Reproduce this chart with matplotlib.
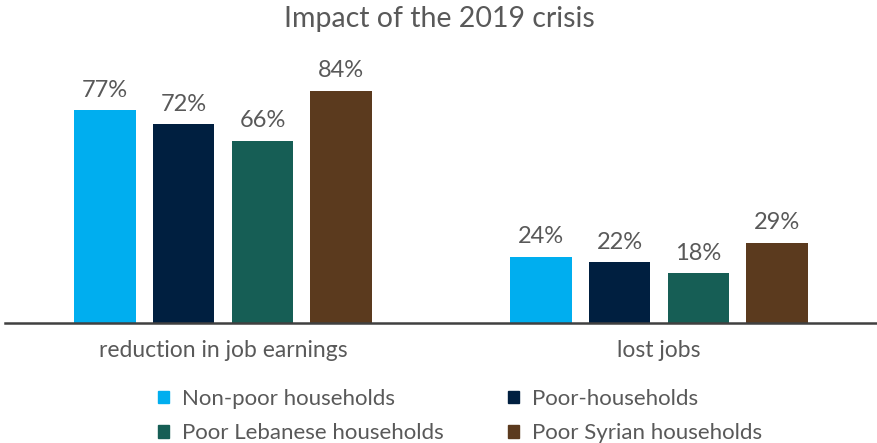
import numpy as np
import matplotlib.pyplot as plt
from matplotlib.patches import Patch

plt.rcParams['font.family'] = ['Lato', 'DejaVu Sans']

# data
categories = ['reduction in job earnings', 'lost jobs']
series = ['Non-poor households', 'Poor-households', 'Poor Lebanese households', 'Poor Syrian households']
values = [
    [77, 24],
    [72, 22],
    [66, 18],
    [84, 29],
]
colors = ['#00AEEF', '#001F40', '#165E55', '#5B3A1E']
txt = '#595959'

fig = plt.figure(figsize=(8.78, 4.43), dpi=100)
ax = fig.add_axes([5 / 878, (443 - 323) / 443, 872 / 878, 276 / 443])

x = np.arange(len(categories))
step = 0.181
width = 0.142
for i, (name, vals) in enumerate(zip(series, values)):
    pos = x + (i - 1.5) * step
    bars = ax.bar(pos, vals, width, color=colors[i], label=name)
    for b, v in zip(bars, vals):
        ax.text(b.get_x() + b.get_width() / 2, v + 3.5, f'{v}%', ha='center', va='bottom',
                fontsize=17, color=txt)

ax.set_xlim(-0.5, 1.5)
ax.set_ylim(0, 100)
ax.set_yticks([])
ax.set_xticks(x)
ax.set_xticklabels(categories, fontsize=16.5, color=txt)
ax.tick_params(axis='x', length=0, pad=12)
for s in ['top', 'right', 'left']:
    ax.spines[s].set_visible(False)
ax.spines['bottom'].set_color('#404040')
ax.spines['bottom'].set_linewidth(1.8)

fig.text(0.5, (443 - 19) / 443, 'Impact of the 2019 crisis', fontsize=20.5, color=txt,
         ha='center', va='center')

handles = [Patch(color=c) for c in colors]
order = [0, 2, 1, 3]
leg = fig.legend([handles[i] for i in order], [series[i] for i in order], ncol=2,
                 loc='upper left', bbox_to_anchor=(138 / 878, (443 - 369) / 443), frameon=False,
                 fontsize=16, handlelength=0.5, handleheight=0.5, handletextpad=0.6,
                 columnspacing=2.85, labelspacing=0.65)
for t in leg.get_texts():
    t.set_color(txt)

fig.savefig('out.png', dpi=100)
